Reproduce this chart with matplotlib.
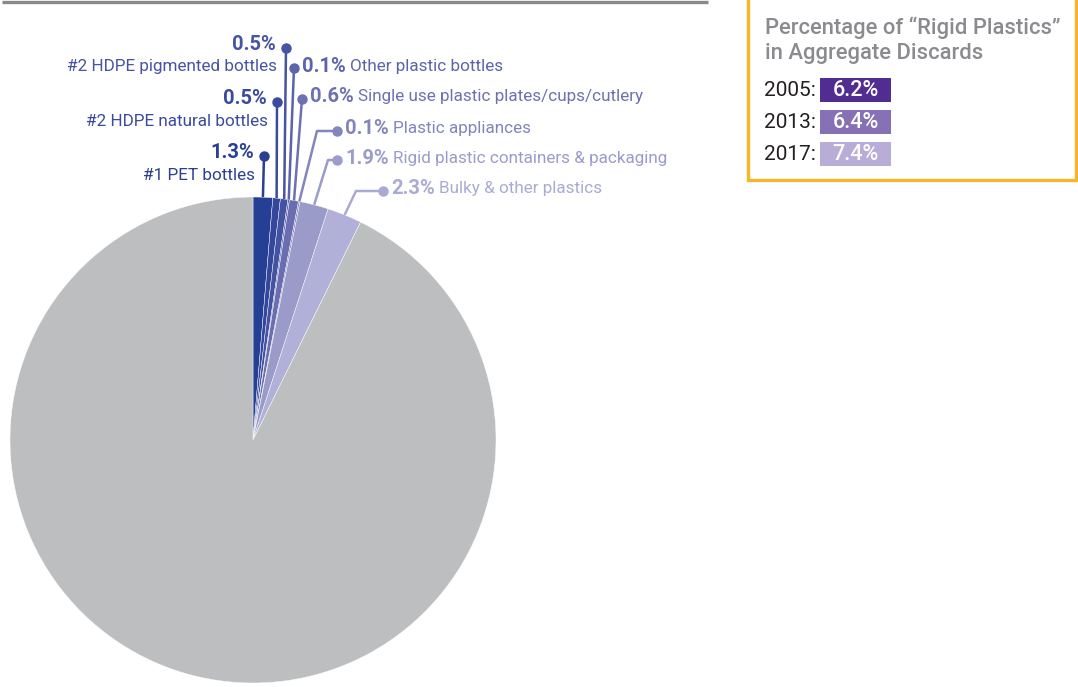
import numpy as np
import matplotlib.pyplot as plt
from matplotlib.patches import Rectangle

# share of aggregate discards, clockwise from 12 o'clock
names = ['#1 PET bottles', '#2 HDPE natural bottles', '#2 HDPE pigmented bottles',
         'Other plastic bottles', 'Single use plastic plates/cups/cutlery',
         'Plastic appliances', 'Rigid plastic containers & packaging',
         'Bulky & other plastics']
shares = [1.3, 0.5, 0.5, 0.1, 0.6, 0.1, 1.9, 2.3]
rest = round(100 - sum(shares), 1)

years = ['2005', '2013', '2017']
rigid_pct = [6.2, 6.4, 7.4]

slice_colors = ['#253f95', '#34479d', '#4452a2', '#5560a8', '#6a6eb0',
                '#7d7fb9', '#9b9bca', '#b0b0d8']
text_colors = ['#2b3f94', '#3a4b9e', '#4753a3', '#5b63aa', '#6d71b2',
               '#8385bd', '#9b9ccb', '#a9abd5']
gray = '#bdbec0'
year_colors = ['#522d91', '#8571b4', '#b8add6']

plt.rcParams['font.family'] = ['Roboto', 'DejaVu Sans']

fig = plt.figure(figsize=(10.78, 6.87), dpi=100)
ax = fig.add_axes([0, 0, 1, 1])

cx, cy, R = 253, 440, 243
ax.pie(shares + [rest], colors=slice_colors + [gray], startangle=-90,
       counterclock=True, center=(cx, cy), radius=R,
       wedgeprops=dict(edgecolor='white', linewidth=0.3))
ax.set_xlim(0, 1078)
ax.set_ylim(687, 0)
ax.set_aspect('equal')
ax.axis('off')

# header rule
ax.plot([2, 708], [1.5, 1.5], color='#88898d', lw=2.4, solid_capstyle='butt')

# leader lines: dot position, elbow (None = straight to dot), label side
dots = [(264, 156), (277, 102), (286, 48), (294, 68), (302, 99),
        (337, 131), (337, 160), (383, 191)]
elbows = [None, None, None, None, None, (317, 131), (328, 160), (356, 191)]
sides = ['L', 'L', 'L', 'R', 'R', 'R', 'R', 'R']

cum = np.cumsum([0] + shares)
for i in range(len(shares)):
    mid = np.deg2rad((cum[i] + shares[i] / 2) / 100 * 360)
    sx, sy = cx + R * np.sin(mid), cy - R * np.cos(mid)
    dx, dy = dots[i]
    pts = [(sx, sy)] + ([elbows[i]] if elbows[i] else []) + [(dx, dy)]
    xs, ys = zip(*pts)
    c = text_colors[i]
    ax.plot(xs, ys, color=c, lw=1.8, solid_capstyle='butt', zorder=3)
    ax.plot(dx, dy, 'o', color=c, ms=6.5, zorder=4)

    pct = f'{shares[i]}%'
    if sides[i] == 'L':
        rx = dx - 10
        ax.text(rx, dy - 3, pct, color=c, fontsize=14.5, fontweight='bold',
                ha='right', va='center')
        ax.text(rx + 1, dy + 19, names[i], color=c, fontsize=12.3,
                fontweight='normal', ha='right', va='center')
    else:
        t = ax.text(dx + 8, dy - 2, pct, color=c, fontsize=14.5,
                    fontweight='bold', ha='left', va='center')
        ax.annotate(names[i], xy=(1, 0.5), xycoords=t, xytext=(3, 0),
                    textcoords='offset points', color=c, fontsize=12.3,
                    fontweight='normal', ha='left', va='center')

# side box with rigid plastics share by year
ax.add_patch(Rectangle((748, -3), 328, 183, fill=False, edgecolor='#f7b52a',
                       lw=2.4))
ax.text(765, 28, 'Percentage of \u201cRigid Plastics\u201d', color='#8a8b8f',
        fontsize=15.8, fontweight='medium', va='center')
ax.text(765, 53, 'in Aggregate Discards', color='#8a8b8f', fontsize=15.8,
        fontweight='medium', va='center')
for j, (yr, v) in enumerate(zip(years, rigid_pct)):
    y0 = 78 + j * 32
    ax.text(764, y0 + 12, yr + ':', color='#231f20', fontsize=15,
            fontweight='normal', va='center')
    ax.add_patch(Rectangle((820, y0), 71, 24, color=year_colors[j], lw=0))
    ax.text(855.5, y0 + 12.5, f'{v}%', color='white', fontsize=15.5,
            fontweight='medium', ha='center', va='center')

fig.savefig('out.png', dpi=100)
